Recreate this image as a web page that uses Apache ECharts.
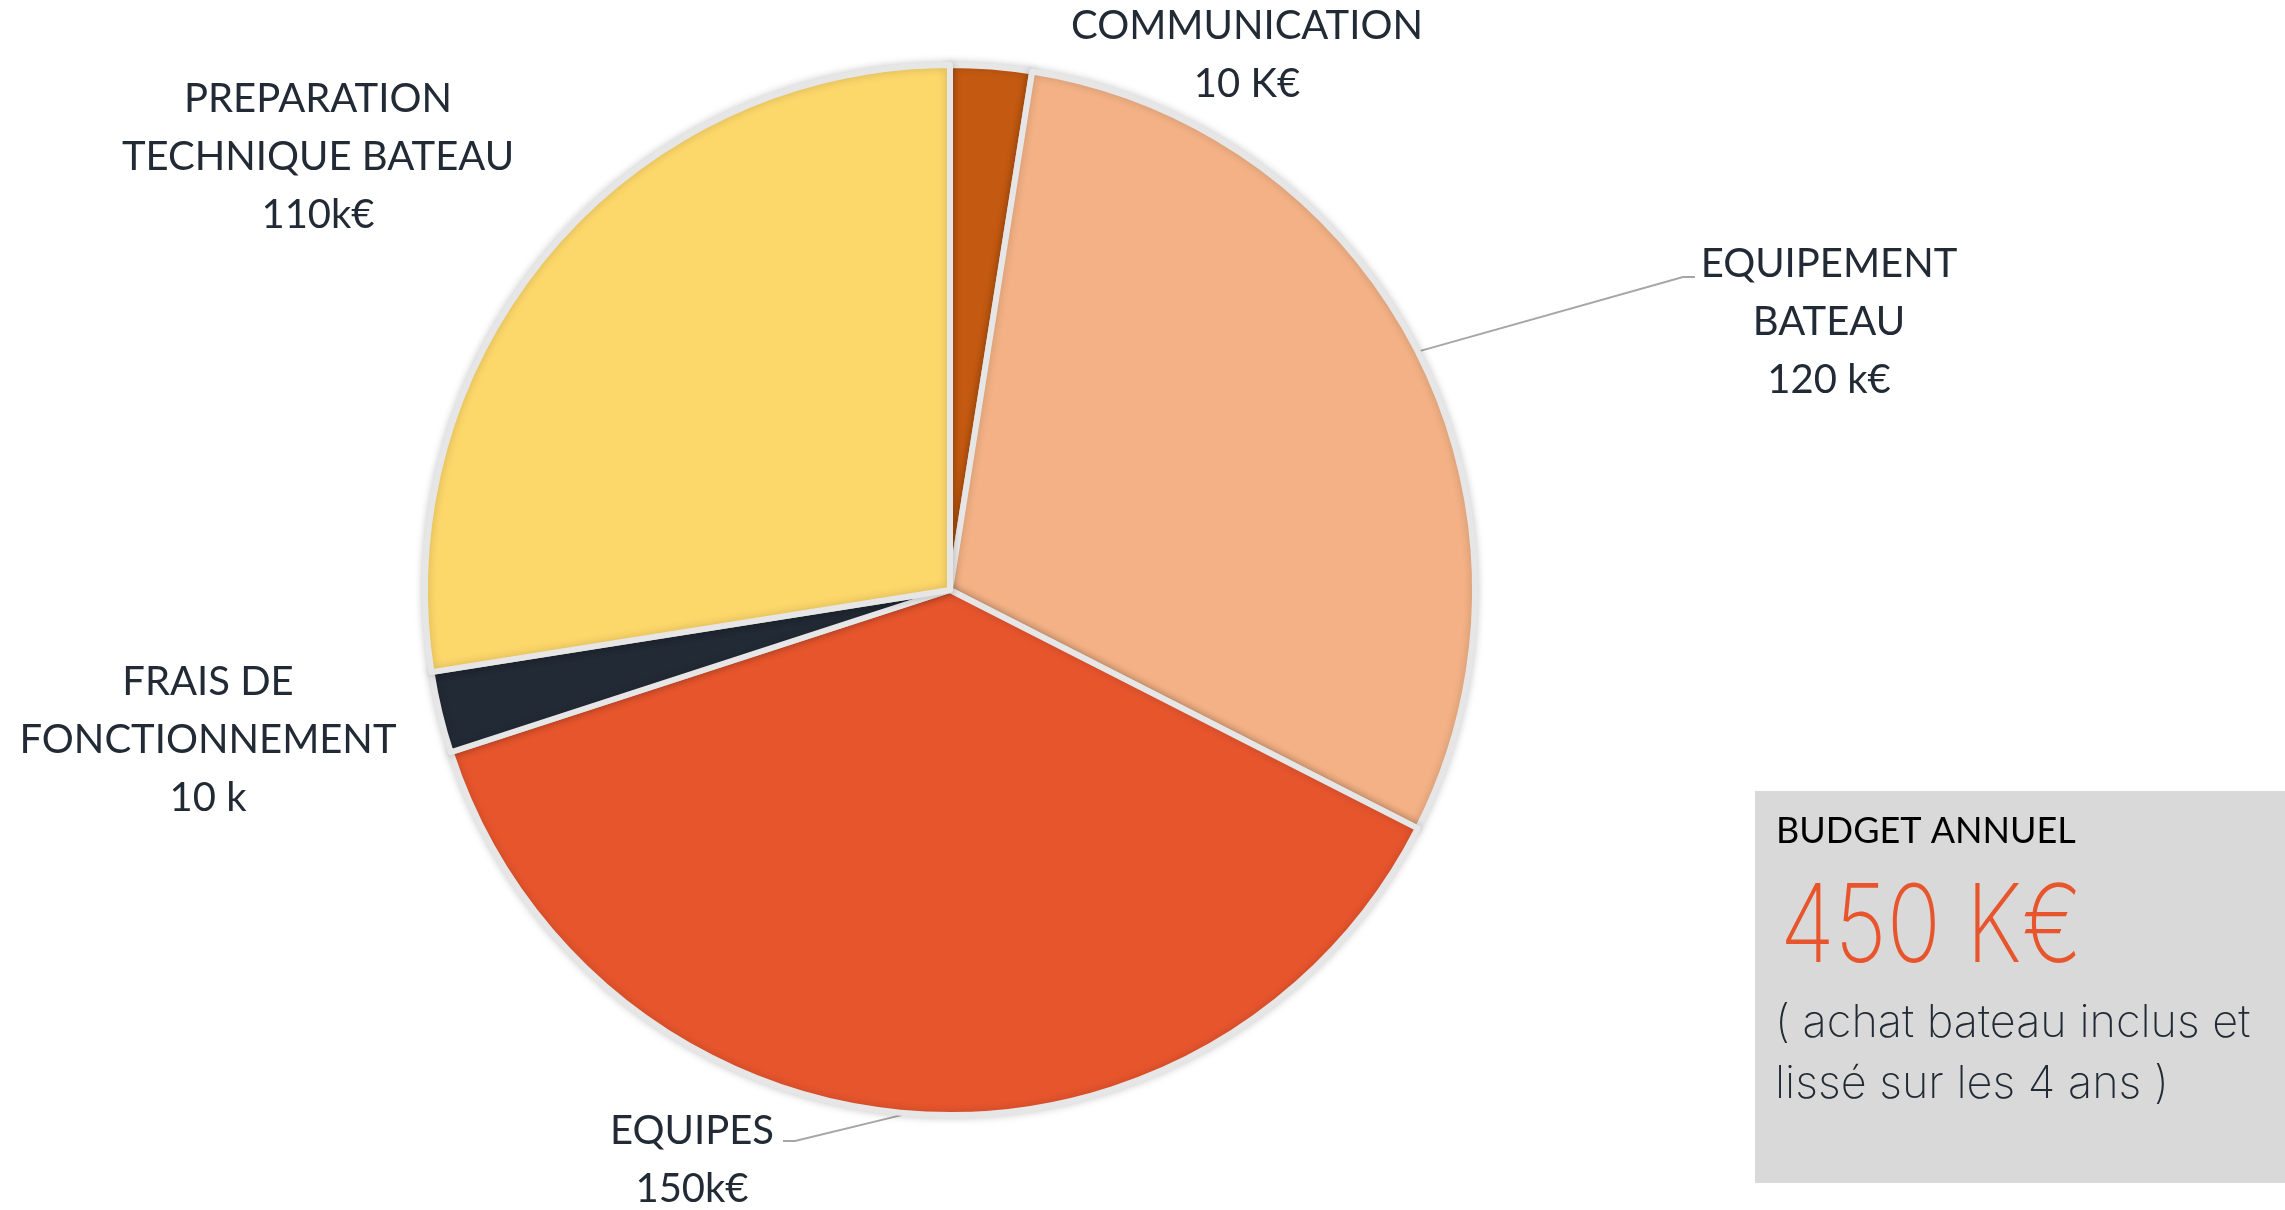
<!DOCTYPE html>
<html>
<head>
<meta charset="utf-8">
<title>Budget annuel</title>
<script src="https://cdn.jsdelivr.net/npm/echarts@6/dist/echarts.min.js"></script>
<style>
	html, body { margin: 0; padding: 0; background: #fff; }
	#chart { width: 2285px; height: 1210px; }
</style>
</head>
<body>
	<div id="chart"></div>
	<script>
		// postes du budget (sens horaire depuis le haut)
		var names = ['COMMUNICATION', 'EQUIPEMENT\nBATEAU', 'EQUIPES', 'FRAIS DE\nFONCTIONNEMENT', 'PREPARATION\nTECHNIQUE BATEAU'];
		var values = [10, 120, 150, 10, 110];
		var valueLabels = ['10 K€', '120 k€', '150k€', '10 k', '110k€'];
		var colors = ['#c45a11', '#f3b185', '#e7552d', '#222a35', '#fcd76a'];

		// encart budget
		var budgetTitle = 'BUDGET ANNUEL';
		var budgetTotal = '450 K€';
		var budgetNote = ['( achat bateau inclus et', 'lissé sur les 4 ans )'];

		// position des etiquettes (centre du bloc de texte)
		var labelPos = [[1247, 55], [1829, 322], [692, 1160], [208, 740], [318, 157]];
		// coude et fin des traits de rappel (null = pas de trait)
		var leaderPts = [null, [[1683, 277], [1695, 277]], [[795, 1141], [783, 1141]], null, null];

		var myChart = echarts.init(document.getElementById('chart'));

		var data = [];
		for (var i = 0; i < names.length; i++) {
			data.push({
				name: names[i],
				value: values[i],
				itemStyle: { color: colors[i] },
				labelLine: { show: leaderPts[i] != null }
			});
		}

		var option = {
			animation: false,
			backgroundColor: '#fff',
			series: [{
				type: 'pie',
				center: [950, 590],
				radius: 525,
				startAngle: 90,
				clockwise: true,
				data: data,
				emphasis: { disabled: true },
				itemStyle: {
					borderColor: '#e6e6e6',
					borderWidth: 6,
					shadowBlur: 8,
					shadowColor: 'rgba(0,0,0,0.18)'
				},
				label: {
					show: true,
					formatter: function (p) {
						return p.name + '\n' + valueLabels[p.dataIndex];
					},
					fontFamily: 'Lato',
					fontSize: 40,
					lineHeight: 58,
					color: '#222a35',
					align: 'center'
				},
				labelLine: {
					length: 40,
					length2: 10,
					lineStyle: { color: '#a6a6a6', width: 2 }
				},
				labelLayout: function (params) {
					var p = labelPos[params.dataIndex];
					var res = { x: p[0], y: p[1], align: 'center', verticalAlign: 'middle' };
					var lp = leaderPts[params.dataIndex];
					if (lp && params.labelLinePoints) {
						res.labelLinePoints = [params.labelLinePoints[0], lp[0], lp[1]];
					}
					return res;
				}
			}],
			graphic: [
				{ type: 'rect', shape: { x: 1755, y: 791, width: 530, height: 392 }, style: { fill: '#d9d9d9' } },
				{ type: 'text', x: 1776, y: 831, style: { text: budgetTitle, font: '36px Lato', fill: '#000', verticalAlign: 'middle' } },
				{ type: 'text', x: 1780, y: 930, scaleX: 0.83, style: { text: budgetTotal, font: '200 108px Inter', fill: '#e8552d', verticalAlign: 'middle' } },
				{ type: 'text', x: 1775, y: 1023, style: { text: budgetNote[0], font: '200 45px Inter', fill: '#222a35', verticalAlign: 'middle' } },
				{ type: 'text', x: 1775, y: 1084, style: { text: budgetNote[1], font: '200 45px Inter', fill: '#222a35', verticalAlign: 'middle' } }
			]
		};
		myChart.setOption(option);
	</script>
</body>
</html>
